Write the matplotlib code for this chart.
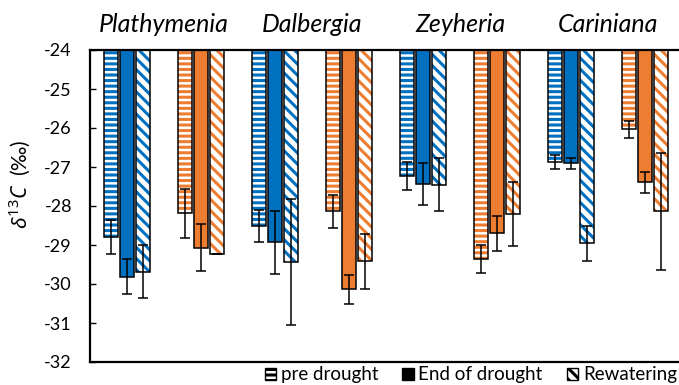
import matplotlib
matplotlib.use("Agg")
import matplotlib.pyplot as plt
from matplotlib.patches import Patch
import numpy as np

# delta 13C per group: groups alternate blue / orange within each species
species = ["Plathymenia", "Dalbergia", "Zeyheria", "Cariniana"]
group_colors = ["#0070C0", "#ED7D31"] * 4

pre_drought = [-28.79, -28.19, -28.51, -28.14, -27.23, -29.35, -26.86, -26.03]
pre_err = [0.43, 0.62, 0.41, 0.43, 0.36, 0.36, 0.18, 0.22]
end_drought = [-29.81, -29.07, -28.93, -30.14, -27.44, -28.70, -26.91, -27.39]
end_err = [0.45, 0.60, 0.81, 0.38, 0.53, 0.45, 0.15, 0.27]
rewatering = [-29.68, -29.23, -29.44, -29.42, -27.46, -28.21, -28.96, -28.14]
rew_err = [0.69, 0.0, 1.62, 0.71, 0.68, 0.82, 0.45, 1.51]

yticks = [-24, -25, -26, -27, -28, -29, -30, -31, -32]
base = -24

plt.rcParams['font.family'] = ['Lato', 'DejaVu Sans']
plt.rcParams['mathtext.fontset'] = 'custom'
plt.rcParams['mathtext.it'] = 'Noto Sans:italic'
plt.rcParams['mathtext.rm'] = 'Noto Sans'
plt.rcParams['hatch.linewidth'] = 2.2

fig = plt.figure(figsize=(6.79, 3.85), dpi=100)
ax = fig.add_axes([90 / 679, 23 / 385, 592 / 679, 312 / 385])

x = np.arange(len(pre_drought))
width = 0.19
step = 0.22

series = [
    (pre_drought, pre_err, '---', -step),
    (end_drought, end_err, None, 0.0),
    (rewatering, rew_err, '\\\\\\', step),
]

for vals, errs, hatch, off in series:
    vals = np.array(vals)
    heights = vals - base
    for i in range(len(vals)):
        c = group_colors[i]
        if hatch is None:
            ax.bar(x[i] + off, heights[i], width, bottom=base, color=c,
                   edgecolor='black', linewidth=1.1, zorder=2)
        else:
            ax.bar(x[i] + off, heights[i], width, bottom=base, facecolor='white',
                   edgecolor=c, hatch=hatch, linewidth=0, zorder=2)
            ax.bar(x[i] + off, heights[i], width, bottom=base, fill=False,
                   edgecolor='black', linewidth=1.1, zorder=3)
    ax.errorbar(x + off, vals, yerr=errs, fmt='none', ecolor='black',
                elinewidth=1.1, capsize=3.6, capthick=1.1, zorder=4)

ax.set_xlim(-0.5, 7.5)
ax.set_ylim(-32, -24)
ax.set_yticks(yticks)
ax.set_yticklabels([str(t) for t in yticks])
ax.set_xticks([])
ax.tick_params(axis='y', direction='in', length=4, width=1, labelsize=13, pad=13)

for s in ['left', 'top', 'bottom']:
    ax.spines[s].set_linewidth(1.6)
ax.spines['right'].set_visible(False)

for k, name in enumerate(species):
    ax.text(2 * k + 0.5, -23.35, name, ha='center', va='center',
            fontsize=18, style='italic', clip_on=False)

ax.set_ylabel(r'$\delta^{13}C$  (‰)', fontsize=15)
ax.yaxis.set_label_coords(-0.098, 0.57)

handles = [
    Patch(facecolor='white', edgecolor='black', hatch='---', linewidth=1),
    Patch(facecolor='black', edgecolor='black', linewidth=1),
    Patch(facecolor='white', edgecolor='black', hatch='\\\\\\', linewidth=1),
]
fig.legend(handles, ['pre drought', 'End of drought', 'Rewatering'],
           loc='center right', bbox_to_anchor=(0.997, 0.026), ncol=3,
           frameon=False, fontsize=13.5, handlelength=0.6, handleheight=0.6,
           handletextpad=0.25, columnspacing=1.3, borderpad=0.0,
           borderaxespad=0.0)

fig.savefig('out.png', dpi=100)
